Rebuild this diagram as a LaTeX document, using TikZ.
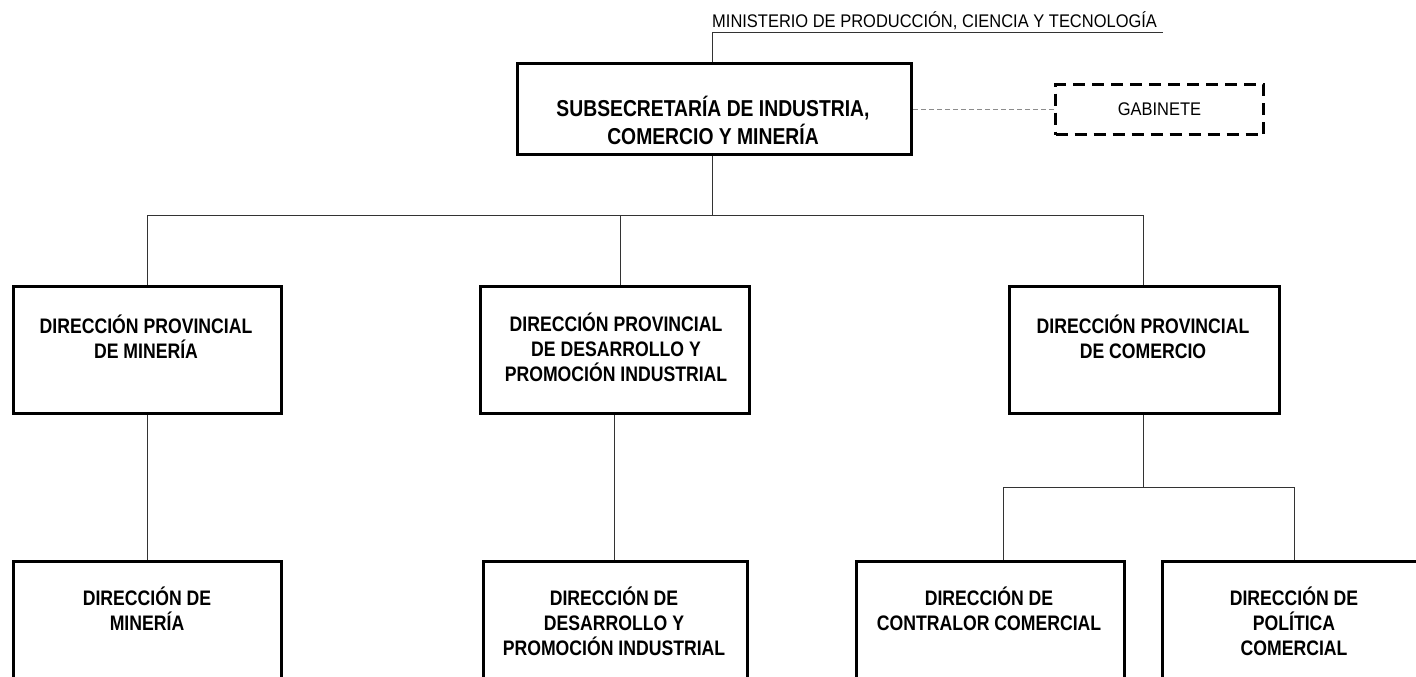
\documentclass[tikz,border=0pt]{standalone}
\usepackage{fontspec}
\setmainfont{Liberation Sans}[FakeStretch=0.84]
\newfontfamily\regfont{Liberation Sans}[FakeStretch=0.9]
\begin{document}
\begin{tikzpicture}[x=1pt,y=-1pt,
  box/.style={draw=black,line width=3pt,rectangle,inner sep=0pt,anchor=north west},
  conn/.style={draw=black!80,line width=1pt},
  btxt/.style={font=\bfseries\fontsize{21}{25}\selectfont,align=center,inner sep=0pt},
  ttxt/.style={font=\bfseries\fontsize{23}{28}\selectfont,align=center,inner sep=0pt},
  rtxt/.style={font=\regfont\fontsize{18.3}{20}\selectfont,inner sep=0pt}]
\useasboundingbox (0,0) rectangle (1416,677);
\clip (0,0) rectangle (1416,677);
\fill[white] (0,0) rectangle (1416,677);
% ministry
\node[rtxt,anchor=base west] (min) at (712,28) {MINISTERIO DE PRODUCCIÓN, CIENCIA Y TECNOLOGÍA};
\coordinate (minL) at (712,33);
\coordinate (minR) at (1163,33);
\draw[conn] (minL) -- (minR);
% top
\node[box,minimum width=394pt,minimum height=91pt] (top) at (516,62) {};
\node[ttxt] at (713,120) {SUBSECRETARÍA DE INDUSTRIA,\\COMERCIO Y MINERÍA};
\node[box,dashed,dash pattern=on 12pt off 7pt,minimum width=208pt,minimum height=50pt] (gab) at (1054,83) {};
\node[rtxt] at (gab.center) {GABINETE};
\draw[black!45,line width=1pt,dash pattern=on 5pt off 3pt] (top.east |- gab.west) -- (gab.west);
\draw[conn] (minL) -- (minL |- top.north);
% level 2
\node[box,minimum width=268pt,minimum height=127pt] (pm) at (12,285) {};
\node[box,minimum width=269pt,minimum height=127pt] (pd) at (479,285) {};
\node[box,minimum width=270pt,minimum height=127pt] (pc) at (1008,285) {};
\node[btxt] at (146,337) {DIRECCIÓN PROVINCIAL\\DE MINERÍA};
\node[btxt] at (616,347) {DIRECCIÓN PROVINCIAL\\DE DESARROLLO Y\\PROMOCIÓN INDUSTRIAL};
\node[btxt] at (1143,337) {DIRECCIÓN PROVINCIAL\\DE COMERCIO};
\coordinate (bar) at (712,215);
\coordinate (barL) at (147,215);
\coordinate (barM) at (620,215);
\coordinate (barR) at (1143,215);
\draw[conn] (bar |- top.south) -- (bar);
\draw[conn] (barL) -- (barR);
\draw[conn] (barL) -- (pm.north -| barL);
\draw[conn] (barM) -- (pd.north -| barM);
\draw[conn] (barR) -- (pc.north -| barR);
% level 3
\node[box,minimum width=268pt,minimum height=200pt] (dm) at (12,560) {};
\node[box,minimum width=264pt,minimum height=200pt] (dd) at (482,560) {};
\node[box,minimum width=268pt,minimum height=200pt] (dc) at (855,560) {};
\node[box,minimum width=270pt,minimum height=200pt] (dp) at (1161,560) {};
\node[btxt] at (147,609) {DIRECCIÓN DE\\MINERÍA};
\node[btxt] at (614,621) {DIRECCIÓN DE\\DESARROLLO Y\\PROMOCIÓN INDUSTRIAL};
\node[btxt] at (989,609) {DIRECCIÓN DE\\CONTRALOR COMERCIAL};
\node[btxt] at (1294,621) {DIRECCIÓN DE\\POLÍTICA\\COMERCIAL};
\draw[conn] (pm.south -| barL) -- (dm.north -| barL);
\coordinate (midx) at (614,0);
\draw[conn] (pd.south -| midx) -- (dd.north -| midx);
\coordinate (sub) at (1143,487);
\coordinate (subL) at (1003,487);
\coordinate (subR) at (1294,487);
\draw[conn] (sub |- pc.south) -- (sub);
\draw[conn] (subL) -- (subR);
\draw[conn] (subL) -- (dc.north -| subL);
\draw[conn] (subR) -- (dp.north -| subR);
\end{tikzpicture}
\end{document}
